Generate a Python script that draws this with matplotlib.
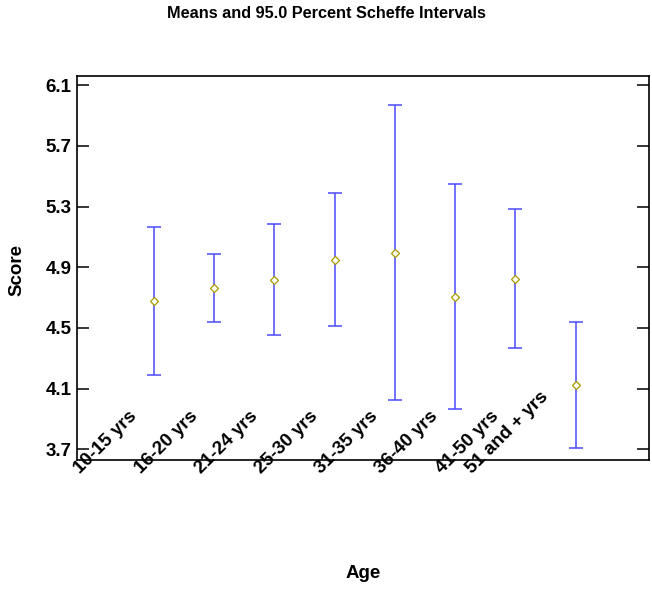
import matplotlib
matplotlib.use("Agg")
import matplotlib.pyplot as plt
import matplotlib.transforms as mtransforms
import numpy as np

plt.rcParams['font.family'] = ['Liberation Sans', 'DejaVu Sans']

categories = ["10-15 yrs", "16-20 yrs", "21-24 yrs", "25-30 yrs",
              "31-35 yrs", "36-40 yrs", "41-50 yrs", "51 and + yrs"]
means = [4.675, 4.762, 4.816, 4.945, 4.992, 4.703, 4.822, 4.125]
lower = [4.188, 4.542, 4.454, 4.514, 4.024, 3.964, 4.366, 3.712]
upper = [5.166, 4.990, 5.182, 5.390, 5.968, 5.447, 5.285, 4.542]
yticks = [3.7, 4.1, 4.5, 4.9, 5.3, 5.7, 6.1]

FS = 13.5

fig = plt.figure(figsize=(6.52, 5.89), dpi=100)
ax = fig.add_axes([77/652, 1-460/589, (649-77)/652, (460-75.7)/589])

x = np.arange(1, len(categories) + 1)
m = np.array(means)
yerr = np.vstack([m - np.array(lower), np.array(upper) - m])
ax.errorbar(x, m, yerr=yerr, fmt='none', ecolor='#4a4aff', elinewidth=1.1,
            capsize=4.8, capthick=1.1)
ax.plot(x, m, linestyle='none', marker='D', markersize=4.2,
        markerfacecolor='white', markeredgecolor='#a89a00', markeredgewidth=0.9,
        zorder=3)

ax.set_xlim(-0.28, 9.22)
ax.set_ylim(3.63, 6.162)
ax.set_yticks(yticks)
ax.set_yticklabels([f"{v:.1f}" for v in yticks], fontsize=FS, fontweight='bold')
ax.tick_params(axis='y', direction='in', length=8.5, width=1.1, right=True,
               left=True, pad=4)
ax.set_xticks([])
for s in ax.spines.values():
    s.set_linewidth(1.2)

trans = mtransforms.blended_transform_factory(ax.transData, ax.transAxes)
shift = {7: -0.5}
for i, lab in enumerate(categories):
    ax.text(x[i] - 1.22 + shift.get(i, 0.0), -0.036, lab, transform=trans,
            rotation=45, rotation_mode='anchor', ha='left', va='baseline',
            fontsize=FS, fontweight='bold', clip_on=False)

fig.text(326/652, 1-13/589, "Means and 95.0 Percent Scheffe Intervals",
         ha='center', va='center', fontsize=11.7, fontweight='bold')
fig.text(363/652, 1-574/589, "Age", ha='center', va='center',
         fontsize=FS, fontweight='bold')
fig.text(17/652, 1-270/589, "Score", ha='center', va='center', rotation=90,
         fontsize=FS, fontweight='bold')

fig.savefig("out.png", dpi=100)
